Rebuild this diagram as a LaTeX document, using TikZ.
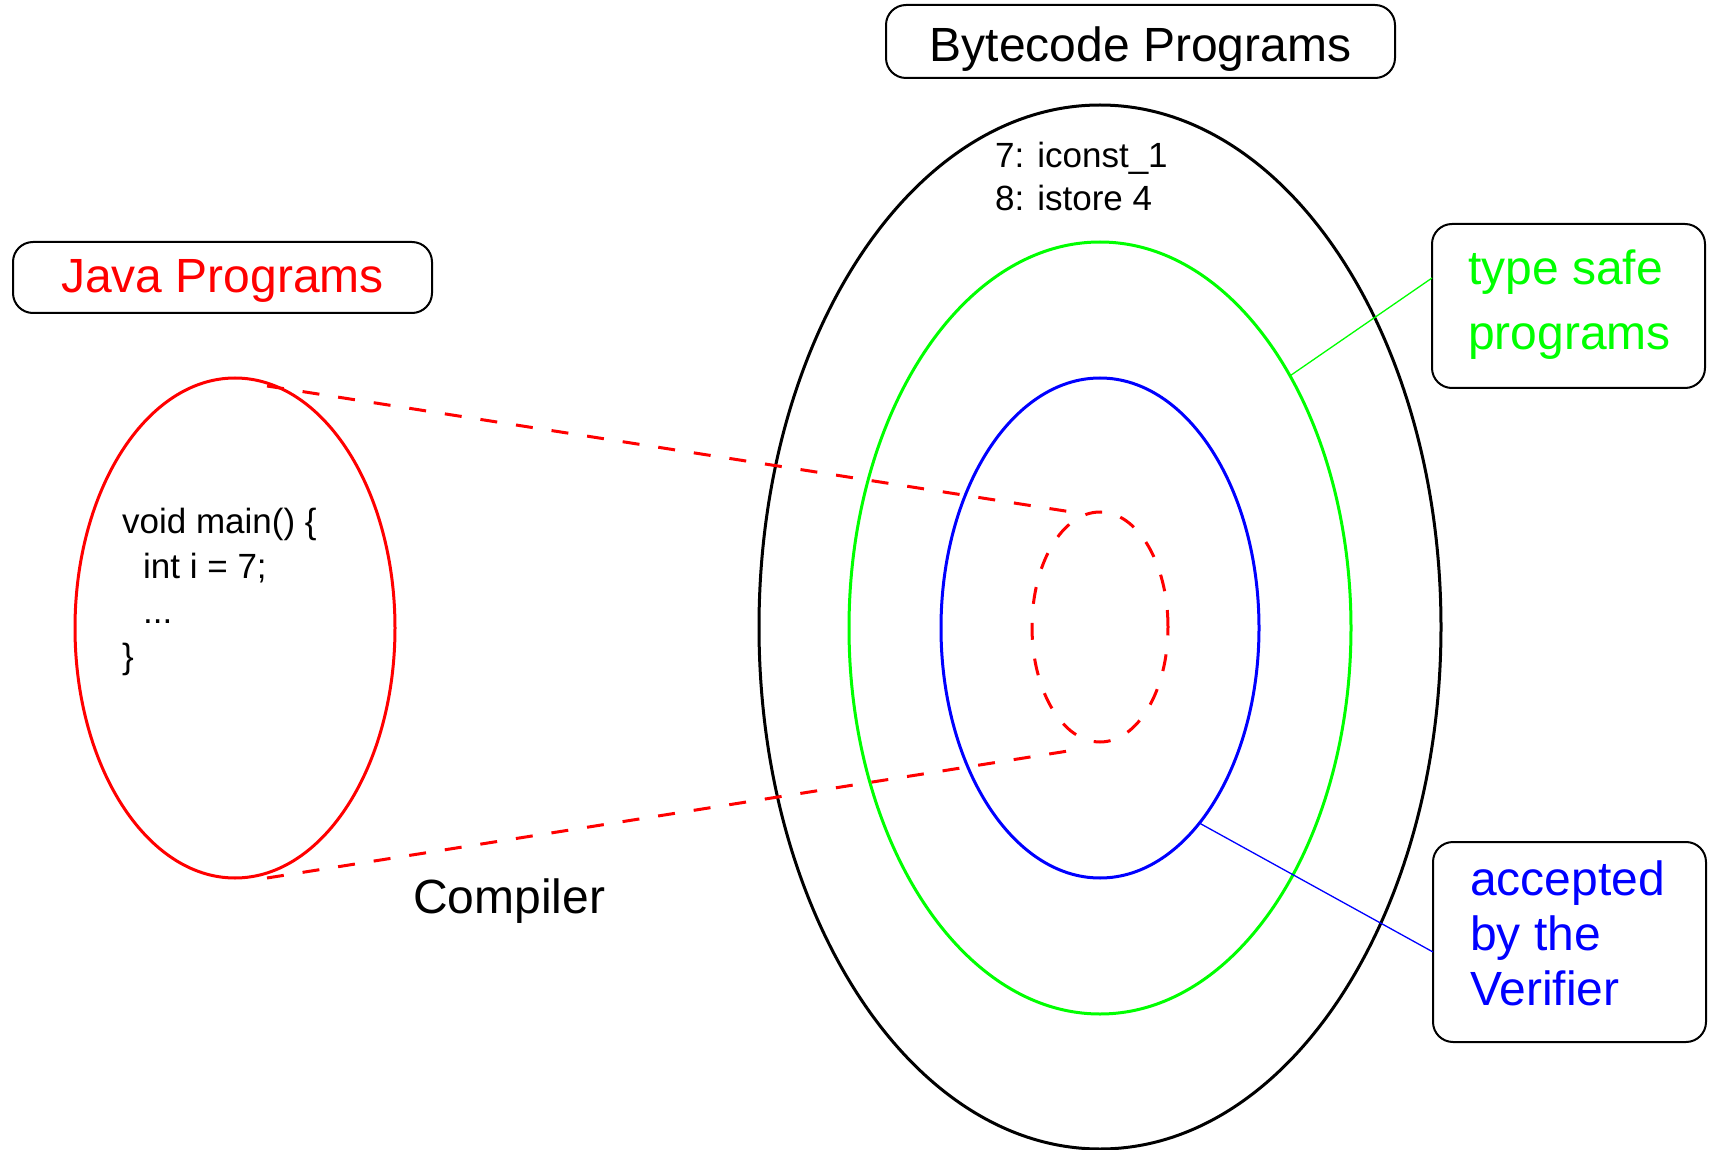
\documentclass[tikz,border=0pt]{standalone}
\usepackage{fontspec}
\setmainfont{Liberation Sans}
\usetikzlibrary{shapes.geometric,calc}
\definecolor{pRed}{RGB}{255,0,0}
\definecolor{pGreen}{RGB}{0,255,0}
\definecolor{pBlue}{RGB}{0,0,255}
\tikzset{
  box/.style={draw=black, line width=2pt, rounded corners=20pt, fill=white, inner sep=0pt, outer sep=0pt},
  big/.style={font=\fontsize{48}{58}\selectfont},
  small/.style={font=\fontsize{35}{42}\selectfont},
  ring/.style={ellipse, draw, line width=3pt, inner sep=0pt, outer sep=0pt},
  txt/.style={inner sep=0pt, anchor=base west},
  compdash/.style={draw=pRed, line width=3pt, dash pattern=on 17pt off 19pt},
  lead/.style={line width=1.3pt},
}
\begin{document}
\begin{tikzpicture}[x=1pt,y=-1pt]
\useasboundingbox (0,0) rectangle (1709,1150);
% rings
\node[ring, draw=black, minimum width=682pt, minimum height=1044pt] (bk) at (1100,627) {};
\node[ring, draw=pGreen, minimum width=502pt, minimum height=772pt] (gr) at (1100,628) {};
\node[ring, draw=pBlue, minimum width=318pt, minimum height=500pt] (bl) at (1100,628) {};
\node[ring, compdash, minimum width=136pt, minimum height=230pt] (rd) at (1100,627) {};
\node[ring, draw=pRed, minimum width=320pt, minimum height=500pt] (jv) at (235,628) {};
% compiler projection
\coordinate (jt) at (267,386);
\coordinate (jb) at (267,878);
\coordinate (ct) at (1078,513);
\coordinate (cb) at (1068,751);
\draw[compdash] (jt) -- (ct);
\draw[compdash] (jb) -- (cb);
% boxes
\node[box, big, minimum width=509pt, minimum height=73pt, text height=41pt, text depth=0pt] (bc) at (1140.5,41.5) {Bytecode Programs\hspace{10pt}};
\node[box, big, text=pRed, minimum width=419pt, minimum height=71pt, text height=31pt, text depth=0pt] (jp) at (222.5,277.5) {Java Programs};
\node[box, minimum width=273pt, minimum height=164pt] (ts) at (1568.5,306) {};
\node[box, minimum width=273pt, minimum height=200pt] (acc) at (1569.5,942) {};
% leader lines
\draw[lead, draw=pGreen] (gr.53.7) -- ($(ts.west)+(0,-28)$);
\draw[lead, draw=pBlue] (bl.-63.8) -- ($(acc.west)+(0,10)$);
% box texts
\node[txt, big, text=pGreen] (ts1) at (1468,285) {type safe};
\node[txt, big, text=pGreen] (ts2) at (1468,350) {programs};
\node[txt, big, text=pBlue] (ac1) at (1470,895) {accepted};
\node[txt, big, text=pBlue] (ac2) at (1470,950) {by the};
\node[txt, big, text=pBlue] (ac3) at (1470,1005) {Verifier};
% bytecode sample
\node[txt, small] (b1) at (995,168) {7: iconst\_1};
\node[txt, small] (b2) at (995,211) {8: istore 4};
% java sample
\node[txt, small] (j1) at (122,533) {void main() \{};
\node[txt, small] (j2) at (143,578) {int i = 7;};
\node[txt, small] (j3) at (143,623) {...};
\node[txt, small] (j4) at (122,668) {\}};
% compiler label
\node[txt, big] (cp) at (413,913) {Compiler};
\end{tikzpicture}
\end{document}
